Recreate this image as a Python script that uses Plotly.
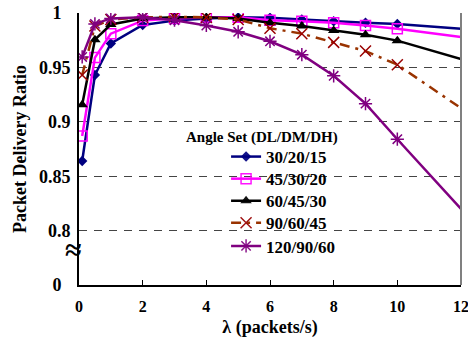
import plotly.graph_objects as go

# ---- data ----
lam = [0.1, 0.5, 1, 2, 3, 4, 5, 6, 7, 8, 9, 10, 12]
series_names = ["30/20/15", "45/30/20", "60/45/30", "90/60/45", "120/90/60"]
pdr_30_20_15 = [0.864, 0.943, 0.972, 0.989, 0.993, 0.995, 0.996, 0.9956, 0.994, 0.9924, 0.991, 0.990, 0.9855]
pdr_45_30_20 = [0.887, 0.959, 0.981, 0.993, 0.995, 0.996, 0.996, 0.9934, 0.9925, 0.991, 0.9885, 0.9855, 0.978]
pdr_60_45_30 = [0.9156, 0.9755, 0.9894, 0.995, 0.996, 0.996, 0.995, 0.991, 0.988, 0.984, 0.980, 0.9746, 0.9577]
pdr_90_60_45 = [0.943, 0.988, 0.994, 0.996, 0.9965, 0.996, 0.994, 0.986, 0.981, 0.973, 0.965, 0.9525, 0.9125]
pdr_120_90_60 = [0.9596, 0.990, 0.995, 0.996, 0.9934, 0.9885, 0.9827, 0.974, 0.9617, 0.9423, 0.9167, 0.884, 0.820]
marker_shown = [1] * 12 + [0]   # last point (λ=12) has no marker

y_tickvals = [0.75, 0.8, 0.85, 0.9, 0.95, 1.0]
y_ticktext = ["0\u00a0\u00a0", "0.8", "0.85", "0.9", "0.95", "1\u00a0\u00a0"]
x_tickvals = [0, 2, 4, 6, 8, 10, 12]

FONT = "Liberation Serif"

styles = [
    dict(line=dict(color="#000080", width=2.5),
         marker=dict(symbol="diamond", size=8, color="#000080")),
    dict(line=dict(color="#FF00FF", width=2.5),
         marker=dict(symbol="square-open", size=10, color="#FF00FF", line=dict(width=1.5, color="#FF00FF"))),
    dict(line=dict(color="#000000", width=2.5),
         marker=dict(symbol="triangle-up", size=10, color="#000000")),
    dict(line=dict(color="#993300", width=2.5, dash="10px,6px,3px,6px"),
         marker=dict(symbol="x-thin-open", size=11, color="#990000", line=dict(width=1.5, color="#990000"))),
    dict(line=dict(color="#800080", width=2.5),
         marker=dict(symbol="asterisk-open", size=11, color="#800080", line=dict(width=1.5, color="#800080"))),
]
legend_ids = ["legend", "legend2", "legend3", "legend4", "legend5"]
legend_y = [0.4705, 0.3893, 0.3081, 0.2269, 0.1421]

fig = go.Figure()
for name, ys, st, lid in zip(series_names,
                             [pdr_30_20_15, pdr_45_30_20, pdr_60_45_30, pdr_90_60_45, pdr_120_90_60],
                             styles, legend_ids):
    mk = dict(st["marker"])
    mk["opacity"] = marker_shown
    fig.add_trace(go.Scatter(x=lam, y=ys, name=name, mode="lines+markers",
                             line=st["line"], marker=mk, legend=lid))

legend_common = dict(x=0.385, xanchor="left", yanchor="middle",
                     bgcolor="rgba(0,0,0,0)", borderwidth=0,
                     font=dict(family=FONT, size=17, color="black", weight="bold"),
                     itemwidth=30)
legends = {lid: dict(legend_common, y=ly) for lid, ly in zip(legend_ids, legend_y)}

fig.update_layout(
    width=468, height=338,
    margin=dict(l=79, r=7, t=13, b=53),
    paper_bgcolor="white", plot_bgcolor="white",
    font=dict(family=FONT, color="black"),
    showlegend=True,
    **legends,
    xaxis=dict(range=[0, 12], tickvals=x_tickvals, showgrid=False, automargin=False,
               showline=True, linecolor="black", linewidth=2,
               ticks="inside", ticklen=5, tickcolor="black", tickwidth=1,
               ticklabelstandoff=6, ticklabeloverflow="allow",
               tickfont=dict(family=FONT, size=16, color="black", weight="bold"),
               title=dict(text="λ (packets/s)", standoff=8,
                          font=dict(family=FONT, size=18, color="black", weight="bold")),
               zeroline=False),
    yaxis=dict(range=[0.75, 1.0], tickvals=y_tickvals, ticktext=y_ticktext, automargin=False,
               showgrid=True, gridcolor="#444444", gridwidth=1, griddash="8px,7px",
               showline=True, linecolor="black", linewidth=2,
               ticks="", ticklen=0, ticklabelstandoff=3,
               tickfont=dict(family=FONT, size=18, color="black", weight="bold"),
               title=dict(text="Packet Delivery Ratio", standoff=8,
                          font=dict(family=FONT, size=18, color="black", weight="bold")),
               zeroline=False),
)

# right border (gray)
fig.add_shape(type="line", xref="paper", yref="paper", x0=1, x1=1, y0=0, y1=1,
              line=dict(color="#808080", width=2))

# legend title
fig.add_annotation(text="Angle Set (DL/DM/DH)", xref="paper", yref="paper",
                   x=0.478, y=0.5406, xanchor="center", yanchor="middle", showarrow=False,
                   font=dict(family=FONT, size=15, color="black", weight="bold"))

# axis break symbol
fig.add_annotation(text="≈", xref="paper", yref="y", x=0, y=0.783, xshift=-6,
                   xanchor="center", yanchor="middle", showarrow=False,
                   font=dict(family=FONT, size=30, color="black", weight="bold"))

fig.write_html("out.html", config={"displayModeBar": False},
               post_script="document.body.style.margin='0';")
